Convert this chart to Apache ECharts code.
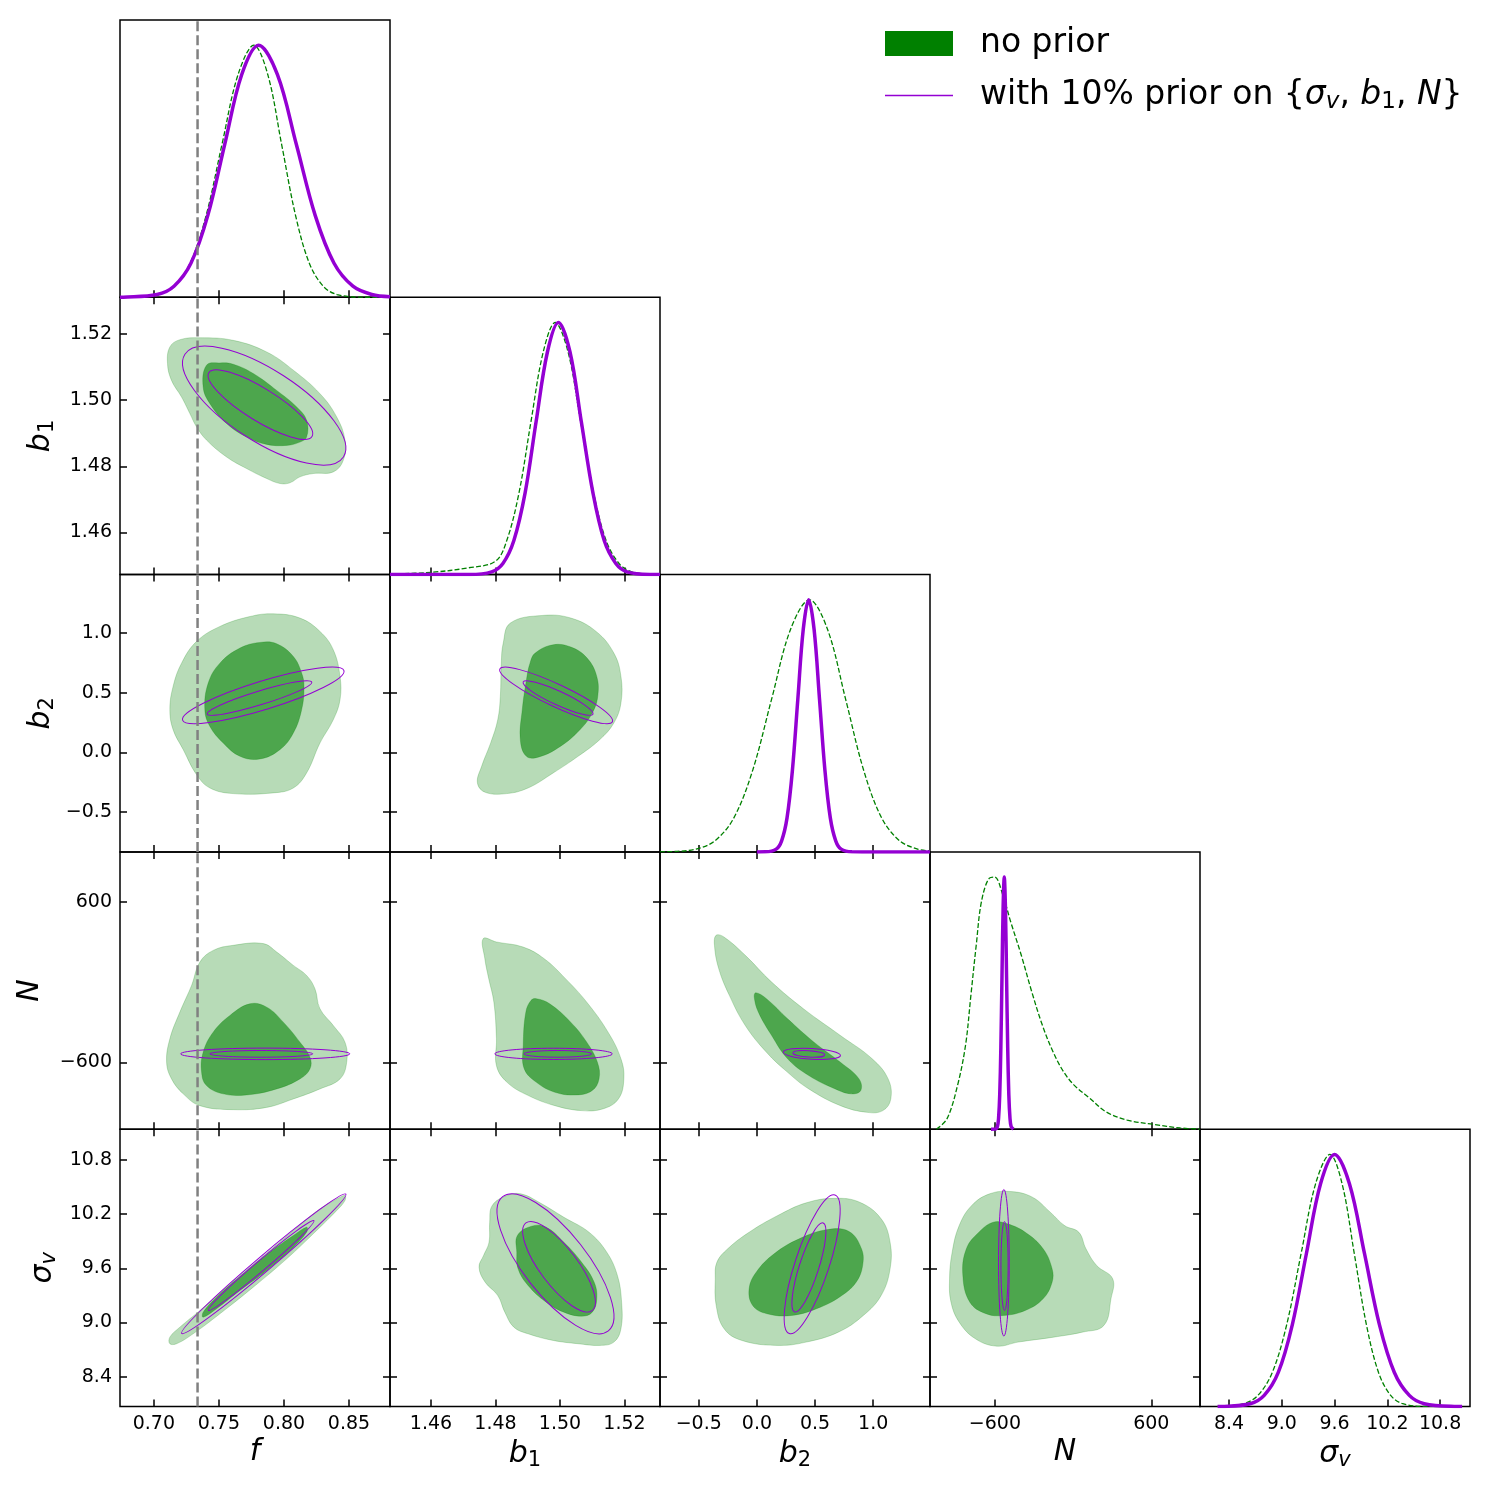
<!DOCTYPE html>
<html>
<head>
<meta charset="utf-8">
<title>corner plot</title>
<script src="https://cdn.jsdelivr.net/npm/echarts@6.0.0/dist/echarts.min.js"></script>
<style>
  html, body { margin: 0; padding: 0; background: #fff; }
  #chart { width: 1491px; height: 1488px; }
</style>
</head>
<body>
<div id="chart"></div>
<script>
// axes: f, b1, b2, N, sigma_v
const axisRanges = [[0.674, 0.8815], [1.4473, 1.531], [-0.833, 1.488], [-1098, 974], [8.07, 11.14]];
const axisTicks = [[0.70, 0.75, 0.80, 0.85], [1.46, 1.48, 1.50, 1.52], [-0.5, 0.0, 0.5, 1.0], [-600, 600], [8.4, 9.0, 9.6, 10.2, 10.8]];
const fTrue = 0.7336;

// 1D marginals [x, normalised density]
const fNoPrior = [[0.674, 0], [0.690, 0.004], [0.7034, 0.011], [0.7157, 0.044], [0.7279, 0.135], [0.7402, 0.325], [0.7524, 0.607], [0.7647, 0.883], [0.7769, 1.0], [0.7876, 0.883], [0.7982, 0.607], [0.8089, 0.325], [0.8195, 0.135], [0.8302, 0.044], [0.8408, 0.011], [0.8621, 0.0003], [0.8815, 0]];
const fPrior = [[0.674, 0], [0.6765, 0.0003], [0.7025, 0.011], [0.7155, 0.044], [0.7285, 0.135], [0.7415, 0.325], [0.7545, 0.607], [0.7675, 0.883], [0.7805, 1.0], [0.795, 0.883], [0.8095, 0.607], [0.824, 0.325], [0.8385, 0.135], [0.853, 0.044], [0.8675, 0.011], [0.8815, 0.002]];
const b1NoPrior = [[1.4473, 0.002], [1.46, 0.009], [1.4717, 0.027], [1.48, 0.053], [1.4835, 0.135], [1.4873, 0.325], [1.491, 0.607], [1.4948, 0.883], [1.4985, 1.0], [1.5025, 0.883], [1.5064, 0.607], [1.5104, 0.325], [1.5143, 0.135], [1.5183, 0.044], [1.5222, 0.011], [1.5301, 0.0003], [1.531, 0]];
const b1Prior = [[1.4473, 0], [1.4719, 0.0003], [1.4788, 0.011], [1.4823, 0.044], [1.4857, 0.135], [1.4892, 0.325], [1.4926, 0.607], [1.4961, 0.883], [1.4995, 1.0], [1.5031, 0.883], [1.5066, 0.607], [1.5102, 0.325], [1.5137, 0.135], [1.5173, 0.044], [1.5208, 0.011], [1.5279, 0.0003], [1.531, 0]];
const b2NoPrior = [[-0.833, 0.0004], [-0.6855, 0.0022], [-0.523, 0.011], [-0.3605, 0.044], [-0.198, 0.135], [-0.0355, 0.325], [0.127, 0.607], [0.2895, 0.883], [0.452, 1.0], [0.607, 0.883], [0.762, 0.607], [0.917, 0.325], [1.072, 0.135], [1.227, 0.044], [1.382, 0.011], [1.488, 0.004]];
const b2Prior = [[0.0, 0], [0.073, 0.0003], [0.166, 0.011], [0.2125, 0.044], [0.259, 0.135], [0.3055, 0.325], [0.352, 0.607], [0.3985, 0.883], [0.445, 1.0], [0.4915, 0.883], [0.538, 0.607], [0.5845, 0.325], [0.631, 0.135], [0.6775, 0.044], [0.724, 0.011], [0.817, 0.0003], [1.0, 0], [1.488, 0]];
const nNoPrior = [[-1049, 0], [-967, 0.042], [-886, 0.175], [-825, 0.334], [-784, 0.532], [-743, 0.731], [-703, 0.903], [-642, 0.996], [-601, 1.0], [-540, 0.93], [-479, 0.823], [-398, 0.691], [-317, 0.545], [-236, 0.413], [-154, 0.307], [-73, 0.228], [8, 0.175], [130, 0.122], [252, 0.069], [415, 0.036], [618, 0.019], [821, 0.005], [974, 0]];
const nPrior = [[-630, 0], [-598, 0.0003], [-580.5, 0.011], [-571.75, 0.044], [-563, 0.135], [-554.25, 0.325], [-545.5, 0.607], [-536.75, 0.883], [-528, 1.0], [-519.25, 0.883], [-510.5, 0.607], [-501.75, 0.325], [-493, 0.135], [-484.25, 0.044], [-475.5, 0.011], [-458, 0.0003], [-455, 0]];
const sigNoPrior = [[8.27, 0.0005], [8.564, 0.011], [8.728, 0.044], [8.892, 0.135], [9.056, 0.325], [9.22, 0.607], [9.384, 0.883], [9.548, 1.0], [9.686, 0.883], [9.824, 0.607], [9.962, 0.325], [10.1, 0.135], [10.238, 0.044], [10.376, 0.011], [10.652, 0.0003], [11.05, 0]];
const sigPrior = [[8.27, 0], [8.32, 0.0003], [8.64, 0.011], [8.8, 0.044], [8.96, 0.135], [9.12, 0.325], [9.28, 0.607], [9.44, 0.883], [9.6, 1.0], [9.77, 0.883], [9.94, 0.607], [10.11, 0.325], [10.28, 0.135], [10.45, 0.044], [10.62, 0.011], [10.96, 0.0003], [11.05, 0]];

// 2D contours without prior (outer 95%, inner 68%), vertices in data units
const fB1Outer = [[0.7123, 1.5160], [0.7200, 1.5182], [0.7354, 1.5188], [0.7610, 1.5180], [0.7867, 1.5145], [0.8072, 1.5090], [0.8277, 1.5019], [0.8405, 1.4949], [0.8469, 1.4879], [0.8456, 1.4818], [0.8379, 1.4783], [0.8225, 1.4778], [0.8123, 1.4768], [0.8046, 1.4750], [0.7969, 1.4748], [0.7867, 1.4763], [0.7713, 1.4793], [0.7559, 1.4828], [0.7405, 1.4879], [0.7328, 1.4919], [0.7277, 1.4959], [0.7213, 1.5009], [0.7136, 1.5059], [0.7105, 1.5110]];
const fB1Inner = [[0.7405, 1.5105], [0.7508, 1.5112], [0.7610, 1.5108], [0.7764, 1.5080], [0.7944, 1.5029], [0.8098, 1.4979], [0.8174, 1.4939], [0.8174, 1.4888], [0.8123, 1.4873], [0.8021, 1.4863], [0.7867, 1.4866], [0.7713, 1.4888], [0.7559, 1.4929], [0.7431, 1.4989], [0.7379, 1.5039]];
const fB2Outer = [[0.7123, 0.357], [0.7148, 0.552], [0.7213, 0.747], [0.7328, 0.928], [0.7508, 1.054], [0.7738, 1.137], [0.7918, 1.160], [0.8123, 1.124], [0.8277, 1.012], [0.8379, 0.859], [0.8431, 0.635], [0.8431, 0.441], [0.8379, 0.273], [0.8277, 0.079], [0.8174, -0.172], [0.8072, -0.298], [0.7918, -0.339], [0.7610, -0.345], [0.7431, -0.298], [0.7328, -0.186], [0.7226, 0.023], [0.7148, 0.190]];
const fB2Inner = [[0.7392, 0.357], [0.7418, 0.580], [0.7508, 0.747], [0.7662, 0.873], [0.7815, 0.920], [0.7944, 0.909], [0.8072, 0.803], [0.8136, 0.664], [0.8154, 0.552], [0.8136, 0.357], [0.8072, 0.162], [0.7969, 0.023], [0.7815, -0.055], [0.7662, -0.033], [0.7533, 0.079], [0.7431, 0.217]];
const b1B2Outer = [[1.4846, 1.082], [1.4945, 1.146], [1.5034, 1.124], [1.5112, 1.012], [1.5167, 0.831], [1.5189, 0.635], [1.5189, 0.413], [1.5167, 0.246], [1.5123, 0.106], [1.5056, -0.033], [1.4979, -0.172], [1.4901, -0.298], [1.4835, -0.345], [1.4768, -0.334], [1.4744, -0.256], [1.4757, -0.117], [1.4785, 0.079], [1.4807, 0.273], [1.4815, 0.468], [1.4818, 0.747], [1.4824, 0.915]];
const b1B2Inner = [[1.4923, 0.831], [1.4979, 0.901], [1.5034, 0.881], [1.5084, 0.789], [1.5114, 0.635], [1.5117, 0.468], [1.5100, 0.329], [1.5062, 0.190], [1.5001, 0.050], [1.4935, -0.038], [1.4896, -0.033], [1.4877, 0.106], [1.4883, 0.357], [1.4896, 0.608], [1.4907, 0.747]];
const fNOuter = [[0.7098, -598], [0.7123, -423], [0.7200, -223], [0.7290, -24], [0.7354, 151], [0.7456, 238], [0.7610, 276], [0.7841, 289], [0.7944, 226], [0.8072, 126], [0.8174, 51], [0.8238, -48], [0.8277, -198], [0.8379, -323], [0.8469, -448], [0.8482, -598], [0.8431, -722], [0.8277, -797], [0.8072, -872], [0.7867, -935], [0.7610, -952], [0.7354, -922], [0.7226, -834], [0.7136, -722]];
const fNInner = [[0.7367, -673], [0.7379, -523], [0.7456, -373], [0.7585, -248], [0.7738, -161], [0.7867, -186], [0.7995, -298], [0.8123, -448], [0.8200, -560], [0.8200, -647], [0.8123, -722], [0.7944, -797], [0.7713, -842], [0.7533, -834], [0.7405, -772]];
const b1NOuter = [[1.4762, 326], [1.4803, 301], [1.4886, 263], [1.4951, 176], [1.5017, 27], [1.5083, -149], [1.5149, -373], [1.5189, -572], [1.5198, -722], [1.5181, -872], [1.5132, -947], [1.5066, -959], [1.4984, -922], [1.4902, -847], [1.4836, -748], [1.4803, -623], [1.4803, -423], [1.4795, -149], [1.4779, 27], [1.4767, 176]];
const b1NInner = [[1.4927, -123], [1.4968, -161], [1.5033, -298], [1.5083, -448], [1.5116, -598], [1.5121, -722], [1.5099, -810], [1.5050, -842], [1.4984, -822], [1.4927, -748], [1.4889, -647], [1.4886, -473], [1.4894, -224], [1.4910, -136]];
const b2NOuter = [[-0.351, 351], [-0.283, 338], [-0.100, 201], [0.127, 1], [0.400, -198], [0.718, -398], [0.991, -572], [1.128, -722], [1.151, -872], [1.083, -959], [0.946, -972], [0.718, -922], [0.446, -797], [0.264, -673], [0.082, -523], [-0.100, -323], [-0.237, -98], [-0.328, 101], [-0.365, 276]];
const b2NInner = [[-0.009, -78], [0.082, -123], [0.264, -273], [0.491, -448], [0.718, -598], [0.878, -722], [0.892, -810], [0.810, -834], [0.673, -797], [0.446, -697], [0.264, -572], [0.127, -398], [0.013, -224], [-0.023, -111]];
const fSigOuter = [[0.7123, 8.838], [0.7200, 8.948], [0.7354, 9.133], [0.7559, 9.391], [0.7815, 9.705], [0.8072, 10.018], [0.8277, 10.258], [0.8431, 10.387], [0.8469, 10.405], [0.8469, 10.350], [0.8405, 10.239], [0.8251, 10.018], [0.8021, 9.705], [0.7764, 9.391], [0.7508, 9.097], [0.7302, 8.875], [0.7175, 8.765], [0.7123, 8.765]];
const fSigInner = [[0.7379, 9.114], [0.7482, 9.280], [0.7687, 9.539], [0.7892, 9.778], [0.8072, 9.963], [0.8174, 10.055], [0.8174, 9.999], [0.8072, 9.833], [0.7867, 9.576], [0.7662, 9.354], [0.7482, 9.152], [0.7379, 9.059]];
const b1SigOuter = [[1.4790, 10.295], [1.4835, 10.405], [1.4879, 10.424], [1.4935, 10.331], [1.5012, 10.165], [1.5090, 9.999], [1.5145, 9.778], [1.5178, 9.520], [1.5191, 9.225], [1.5189, 8.931], [1.5167, 8.783], [1.5123, 8.746], [1.5056, 8.765], [1.4979, 8.801], [1.4901, 8.875], [1.4857, 8.948], [1.4829, 9.114], [1.4807, 9.299], [1.4768, 9.446], [1.4749, 9.612], [1.4763, 9.742], [1.4780, 9.889], [1.4782, 10.110]];
const b1SigInner = [[1.4868, 9.963], [1.4912, 10.066], [1.4957, 10.055], [1.5012, 9.889], [1.5067, 9.667], [1.5106, 9.446], [1.5114, 9.263], [1.5100, 9.114], [1.5067, 9.070], [1.5012, 9.114], [1.4957, 9.225], [1.4901, 9.410], [1.4870, 9.594], [1.4866, 9.778]];
const b2SigOuter = [[-0.344, 9.667], [-0.251, 9.816], [-0.067, 9.999], [0.179, 10.184], [0.424, 10.325], [0.669, 10.375], [0.884, 10.331], [1.068, 10.148], [1.145, 9.889], [1.145, 9.594], [1.068, 9.299], [0.915, 9.078], [0.700, 8.893], [0.424, 8.783], [0.179, 8.746], [-0.129, 8.801], [-0.282, 8.931], [-0.350, 9.188], [-0.358, 9.484]];
const b2SigInner = [[-0.067, 9.373], [-0.006, 9.557], [0.148, 9.760], [0.363, 9.926], [0.608, 10.029], [0.792, 10.007], [0.899, 9.816], [0.909, 9.631], [0.853, 9.446], [0.730, 9.299], [0.546, 9.170], [0.301, 9.078], [0.086, 9.097], [-0.036, 9.188]];
const nSigOuter = [[-948, 9.484], [-928, 9.778], [-874, 10.073], [-778, 10.295], [-641, 10.424], [-477, 10.450], [-312, 10.387], [-175, 10.221], [-65, 10.073], [44, 9.999], [99, 9.816], [181, 9.631], [304, 9.484], [291, 9.263], [236, 8.967], [71, 8.893], [-148, 8.838], [-421, 8.783], [-586, 8.738], [-750, 8.820], [-874, 9.004], [-937, 9.225]];
const nSigInner = [[-846, 9.520], [-819, 9.816], [-723, 9.999], [-613, 10.110], [-504, 10.092], [-367, 9.999], [-230, 9.816], [-161, 9.594], [-161, 9.446], [-230, 9.263], [-367, 9.133], [-531, 9.078], [-668, 9.097], [-792, 9.225]];

// contours with prior: [centre x, centre y, half width x, half height y, correlation], outer then inner
const fB1Ell = [[0.7848, 1.4983, 0.0627, 0.01794, -0.72], [0.7819, 1.4986, 0.0402, 0.01049, -0.84]];
const fB2Ell = [[0.7841, 0.4766, 0.0621, 0.2366, 0.85], [0.7812, 0.4548, 0.0402, 0.1447, 0.91]];
const b1B2Ell = [[1.4988, 0.4766, 0.0175, 0.2366, -0.90], [1.4994, 0.4548, 0.01085, 0.1447, -0.90]];
const fNEll = [[0.7856, -535, 0.0650, 43, 0.0], [0.7826, -535, 0.0395, 25, 0.0]];
const b1NEll = [[1.4980, -535, 0.0182, 42, 0.0], [1.4993, -535, 0.0105, 25, 0.0]];
const b2NEll = [[0.4725, -535, 0.2457, 42, -0.3], [0.446, -535, 0.1366, 25, -0.3]];
const fSigEll = [[0.7845, 9.650, 0.0632, 0.774, 0.990], [0.7825, 9.631, 0.0406, 0.498, 0.989]];
const b1SigEll = [[1.4986, 9.650, 0.0181, 0.774, -0.75], [1.4997, 9.617, 0.01126, 0.501, -0.78]];
const b2SigEll = [[0.475, 9.644, 0.2405, 0.769, 0.77], [0.447, 9.609, 0.146, 0.494, 0.80]];
const nSigEll = [[-531, 9.661, 41, 0.811, 0.0], [-526, 9.625, 27.6, 0.492, 0.0]];

const panels2d = [
  [1, 0, fB1Outer, fB1Inner, fB1Ell],
  [2, 0, fB2Outer, fB2Inner, fB2Ell],
  [2, 1, b1B2Outer, b1B2Inner, b1B2Ell],
  [3, 0, fNOuter, fNInner, fNEll],
  [3, 1, b1NOuter, b1NInner, b1NEll],
  [3, 2, b2NOuter, b2NInner, b2NEll],
  [4, 0, fSigOuter, fSigInner, fSigEll],
  [4, 1, b1SigOuter, b1SigInner, b1SigEll],
  [4, 2, b2SigOuter, b2SigInner, b2SigEll],
  [4, 3, nSigOuter, nSigInner, nSigEll]
];
const panels1d = [
  [0, fNoPrior, fPrior],
  [1, b1NoPrior, b1Prior],
  [2, b2NoPrior, b2Prior],
  [3, nNoPrior, nPrior],
  [4, sigNoPrior, sigPrior]
];

const FONT = 'DejaVu Sans';
const GREEN = '#008000';
const PURPLE = '#9400d3';
const NO_PRIOR = 'no prior';
const WITH_PRIOR = 'with 10% prior';
const LEFT = 120, TOP = 20, W = 270, H = 277.3;

const minus = s => s.replace('-', '\u2212');
const tickFormat = [
  v => v.toFixed(2),
  v => v.toFixed(2),
  v => minus(v.toFixed(1)),
  v => minus(v.toFixed(0)),
  v => v.toFixed(1)
];
const axisNames = ['{it|f}', '{it|b}{sub|1}', '{it|b}{sub|2}', '{it|N}', '{it|σ}{subit|v}'];
const leftNameGap = [0, 62, 62, 75, 60];

const mathRich = {
  it: { fontSize: 30, fontStyle: 'italic', fontFamily: FONT, color: '#000' },
  sub: { fontSize: 21, fontFamily: FONT, color: '#000', padding: [13, 0, 0, 0] },
  subit: { fontSize: 21, fontStyle: 'italic', fontFamily: FONT, color: '#000', padding: [13, 0, 0, 0] }
};
const nameStyle = { color: '#000', fontFamily: FONT, fontSize: 30, rich: mathRich };

const grids = [], xAxes = [], yAxes = [], series = [];

function addGrid(r, c) {
  grids.push({
    left: LEFT + c * W, top: TOP + r * H, width: W, height: H,
    show: true, borderColor: '#000', borderWidth: 1.5, backgroundColor: 'rgba(0,0,0,0)'
  });
  return grids.length - 1;
}

function tickAxis(gi, p, position, labels, extra) {
  const ax = {
    gridIndex: gi, type: 'value', position: position,
    min: axisRanges[p][0], max: axisRanges[p][1],
    axisLine: { show: false, onZero: false }, splitLine: { show: false },
    axisTick: { show: true, inside: true, length: 7, lineStyle: { color: '#000', width: 1.5 }, customValues: axisTicks[p] },
    axisLabel: labels
      ? { show: true, customValues: axisTicks[p], formatter: tickFormat[p], fontSize: 19, fontFamily: FONT, color: '#000', margin: 8 }
      : { show: false }
  };
  return Object.assign(ax, extra || {});
}

function bottomName(p) {
  return { name: axisNames[p], nameLocation: 'middle', nameGap: 31, nameTextStyle: nameStyle };
}

function polygonSeries(name, xi, yi, pts, fill, stroke) {
  return {
    type: 'custom', name: name, xAxisIndex: xi, yAxisIndex: yi, data: pts,
    encode: { x: 0, y: 1 }, silent: true, z: 1, itemStyle: { color: fill },
    renderItem: (params, api) => {
      if (params.dataIndex !== 0) return null;
      return {
        type: 'polygon',
        shape: { points: pts.map(p => api.coord(p)), smooth: 0.4 },
        style: { fill: fill, stroke: stroke, lineWidth: 0.8 }
      };
    }
  };
}

function ellipseSeries(xi, yi, ell) {
  return {
    type: 'custom', name: WITH_PRIOR, xAxisIndex: xi, yAxisIndex: yi, data: ell,
    encode: { x: 0, y: 1 }, silent: true, z: 3, itemStyle: { color: PURPLE },
    renderItem: (params, api) => {
      const cx = api.value(0), cy = api.value(1), hx = api.value(2), hy = api.value(3), rho = api.value(4);
      const c = api.coord([cx, cy]);
      const px = api.coord([cx + hx, cy]);
      const py = api.coord([cx, cy + hy]);
      const a = px[0] - c[0], b = c[1] - py[1];
      const sxx = a * a, syy = b * b, sxy = -rho * a * b;
      const mid = (sxx + syy) / 2;
      const d = Math.sqrt(((sxx - syy) / 2) ** 2 + sxy * sxy);
      const th = 0.5 * Math.atan2(2 * sxy, sxx - syy);
      return {
        type: 'ellipse', x: c[0], y: c[1], rotation: -th,
        shape: { cx: 0, cy: 0, rx: Math.sqrt(mid + d), ry: Math.sqrt(Math.max(mid - d, 0.01)) },
        style: { fill: 'none', stroke: PURPLE, lineWidth: 1 }
      };
    }
  };
}

// 2D panels
panels2d.forEach(([r, c, outer, inner, ell]) => {
  const gi = addGrid(r, c);
  const xb = xAxes.push(tickAxis(gi, c, 'bottom', r === 4, r === 4 ? bottomName(c) : null)) - 1;
  xAxes.push(tickAxis(gi, c, 'top', false));
  const yl = yAxes.push(tickAxis(gi, r, 'left', c === 0, c === 0 ? {
    name: axisNames[r], nameLocation: 'middle', nameRotate: 90, nameGap: leftNameGap[r], nameTextStyle: nameStyle
  } : null)) - 1;
  yAxes.push(tickAxis(gi, r, 'right', false));
  series.push(polygonSeries(NO_PRIOR, xb, yl, outer, '#b7dbb7', 'rgba(0,128,0,0.25)'));
  series.push(polygonSeries(NO_PRIOR, xb, yl, inner, '#4da64d', 'rgba(0,128,0,0.3)'));
  series.push(ellipseSeries(xb, yl, ell));
  if (c === 0) {
    series.push({
      type: 'line', xAxisIndex: xb, yAxisIndex: yl, silent: true, z: 5, symbol: 'none',
      data: [[fTrue, axisRanges[r][0]], [fTrue, axisRanges[r][1]]],
      lineStyle: { color: '#808080', width: 2.5, type: [10, 4] }
    });
  }
});

// 1D panels
panels1d.forEach(([i, green, purple]) => {
  const gi = addGrid(i, i);
  const xb = xAxes.push(tickAxis(gi, i, 'bottom', i === 4, i === 4 ? bottomName(i) : null)) - 1;
  const yl = yAxes.push({ gridIndex: gi, type: 'value', min: 0, max: 1.1, show: false }) - 1;
  series.push({
    type: 'line', name: NO_PRIOR, xAxisIndex: xb, yAxisIndex: yl, data: green, symbol: 'none',
    smooth: 0.35, silent: true, z: 2,
    itemStyle: { color: GREEN }, lineStyle: { color: GREEN, width: 1.3, type: [5, 2.2] }
  });
  series.push({
    type: 'line', name: WITH_PRIOR, xAxisIndex: xb, yAxisIndex: yl, data: purple, symbol: 'none',
    smooth: 0.35, silent: true, z: 3,
    itemStyle: { color: PURPLE }, lineStyle: { color: PURPLE, width: 3.5 }
  });
  if (i === 0) {
    series.push({
      type: 'line', xAxisIndex: xb, yAxisIndex: yl, silent: true, z: 5, symbol: 'none',
      data: [[fTrue, 0], [fTrue, 1.1]],
      lineStyle: { color: '#808080', width: 2.5, type: [10, 4] }
    });
  }
});

const legendRich = {
  rm: { fontSize: 33, fontFamily: FONT, color: '#000' },
  it: { fontSize: 33, fontFamily: FONT, fontStyle: 'italic', color: '#000' },
  sub: { fontSize: 23, fontFamily: FONT, color: '#000', padding: [14, 0, 0, 0] },
  subit: { fontSize: 23, fontFamily: FONT, fontStyle: 'italic', color: '#000', padding: [14, 0, 0, 0] }
};

const chart = echarts.init(document.getElementById('chart'));
chart.setOption({
  backgroundColor: '#fff',
  animation: false,
  grid: grids,
  xAxis: xAxes,
  yAxis: yAxes,
  legend: [
    {
      left: 885, top: 27, padding: 0, itemWidth: 68, itemHeight: 25, icon: 'rect', selectedMode: false,
      data: [{ name: NO_PRIOR, itemStyle: { color: GREEN, borderWidth: 0 } }],
      textStyle: { fontSize: 33, fontFamily: FONT, color: '#000', padding: [4, 0, 0, 22] }
    },
    {
      left: 885, top: 79, padding: 0, itemWidth: 68, itemHeight: 1.3, icon: 'rect', selectedMode: false,
      data: [{ name: WITH_PRIOR, itemStyle: { color: PURPLE, borderWidth: 0 } }],
      formatter: () => '{rm|with 10% prior on {}{it|σ}{subit|v}{rm|, }{it|b}{sub|1}{rm|, }{it|N}}',
      textStyle: { fontSize: 33, fontFamily: FONT, color: '#000', padding: [0, 0, 0, 22], rich: legendRich }
    }
  ],
  series: series
});
</script>
</body>
</html>
